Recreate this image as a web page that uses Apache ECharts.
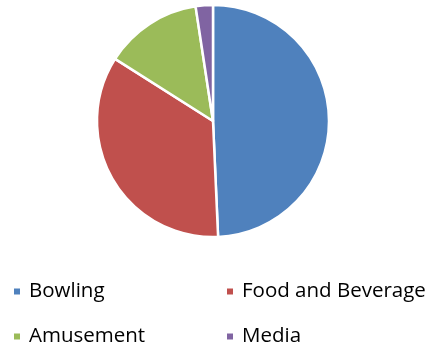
<!DOCTYPE html>
<html><head><meta charset="utf-8">
<script src="https://cdn.jsdelivr.net/npm/echarts@6/dist/echarts.min.js"></script>
<style>html,body{margin:0;padding:0;background:#fff}#c{width:429px;height:349px}</style>
</head><body><div id="c"></div>
<script>
const categories = ["Bowling", "Food and Beverage", "Amusement", "Media"];
const values = [49.3, 34.7, 13.6, 2.4];
const colors = ["#4F81BD", "#C0504D", "#9BBB59", "#8064A2"];

const chart = echarts.init(document.getElementById('c'), null, {renderer: 'canvas'});
const textStyle = {fontFamily: 'Open Sans', fontSize: 20.5, color: '#000', lineHeight: 20, padding: [0, 0, 0, 3]};
const legendPos = [[12, 281], [225, 281], [12, 326], [225, 326]];
chart.setOption({
  animation: false,
  color: colors,
  legend: categories.map((n, i) => ({
    data: [n], left: legendPos[i][0], top: legendPos[i][1], padding: 0,
    itemWidth: 8, itemHeight: 8, icon: 'rect', textStyle
  })),
  series: [{
    type: 'pie',
    center: [213, 121],
    radius: [0, 116],
    startAngle: 90,
    clockwise: true,
    label: {show: false},
    labelLine: {show: false},
    itemStyle: {borderColor: '#fff', borderWidth: 2.5},
    emphasis: {disabled: true},
    data: categories.map((n, i) => ({name: n, value: values[i]}))
  }]
});
</script></body></html>
